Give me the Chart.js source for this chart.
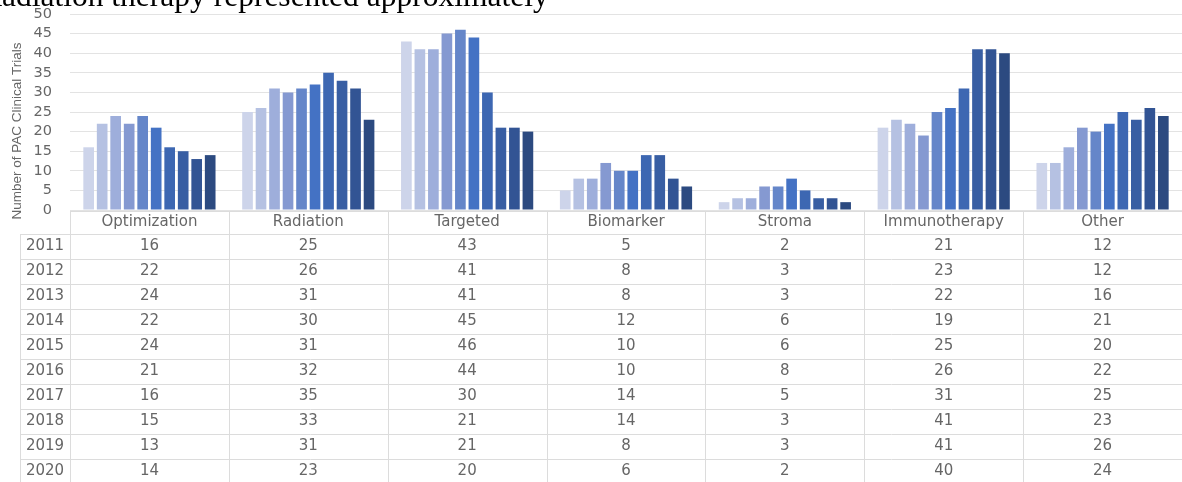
<!DOCTYPE html>
<html>
<head>
<meta charset="utf-8">
<script src="https://cdn.jsdelivr.net/npm/chart.js@4/dist/chart.umd.min.js"></script>
<style>
  html, body { margin: 0; padding: 0; background: #fff; }
  #wrap { width: 1182px; height: 482px; position: relative; overflow: hidden; }
</style>
</head>
<body>
<div id="wrap"><canvas id="trialsChart" width="1182" height="482"></canvas></div>
<script>
const categories = ['Optimization', 'Radiation', 'Targeted', 'Biomarker', 'Stroma', 'Immunotherapy', 'Other'];
const years = ['2011', '2012', '2013', '2014', '2015', '2016', '2017', '2018', '2019', '2020'];
const yTicks = [0, 5, 10, 15, 20, 25, 30, 35, 40, 45, 50];

// one array per year, values in category order
const v2011 = [16, 25, 43, 5, 2, 21, 12];
const v2012 = [22, 26, 41, 8, 3, 23, 12];
const v2013 = [24, 31, 41, 8, 3, 22, 16];
const v2014 = [22, 30, 45, 12, 6, 19, 21];
const v2015 = [24, 31, 46, 10, 6, 25, 20];
const v2016 = [21, 32, 44, 10, 8, 26, 22];
const v2017 = [16, 35, 30, 14, 5, 31, 25];
const v2018 = [15, 33, 21, 14, 3, 41, 23];
const v2019 = [13, 31, 21, 8, 3, 41, 26];
const v2020 = [14, 23, 20, 6, 2, 40, 24];
const yearValues = [v2011, v2012, v2013, v2014, v2015, v2016, v2017, v2018, v2019, v2020];

const barColors = ['#cdd4ea', '#b5c1e2', '#9eaedb', '#8599d1', '#6586c9', '#4472c4', '#3d67b2', '#385ea3', '#325494', '#2c4a80'];

const textColor = '#666666';
const lineColor = '#dcdcdc';
const font = 'DejaVu Sans';

const tablePlugin = {
    id: 'dataTable',
    afterDraw(chart) {
        const ctx = chart.ctx;
        const area = chart.chartArea;
        const colW = (area.right - area.left) / categories.length;
        const headTop = area.bottom + 1;
        const rowTop = headTop + 23;
        const rowH = 25;
        const yearLeft = 20;
        const bottom = chart.height;

        ctx.save();
        ctx.strokeStyle = lineColor;
        ctx.lineWidth = 1;
        ctx.beginPath();
        // header top line
        ctx.moveTo(area.left, headTop + 0.5);
        ctx.lineTo(area.right, headTop + 0.5);
        // row lines
        for (let r = 0; r < years.length; r++) {
            const y = rowTop + r * rowH + 0.5;
            ctx.moveTo(yearLeft, y);
            ctx.lineTo(area.right, y);
        }
        // column lines
        for (let c = 0; c <= categories.length; c++) {
            const x = Math.round(area.left + c * colW) + 0.5;
            ctx.moveTo(x, headTop);
            ctx.lineTo(x, bottom);
        }
        ctx.moveTo(yearLeft + 0.5, rowTop);
        ctx.lineTo(yearLeft + 0.5, bottom);
        ctx.stroke();

        ctx.fillStyle = textColor;
        ctx.font = '15px "' + font + '"';
        ctx.textAlign = 'center';
        ctx.textBaseline = 'middle';
        categories.forEach((cat, c) => {
            const cx = chart.scales.x.getPixelForValue(c);
            ctx.fillText(cat, cx, headTop + 11.5);
            yearValues.forEach((vals, r) => {
                ctx.fillText(String(vals[c]), cx, rowTop + r * rowH + rowH / 2);
            });
        });
        years.forEach((yr, r) => {
            ctx.fillText(yr, (yearLeft + area.left) / 2, rowTop + r * rowH + rowH / 2);
        });

        // y axis title
        ctx.save();
        ctx.translate(17, 131);
        ctx.rotate(-Math.PI / 2);
        ctx.font = '13.5px "Liberation Sans"';
        ctx.fillText('Number of PAC Clinical Trials', 0, 0);
        ctx.restore();

        // cut-off text line above the chart
        ctx.fillStyle = '#000';
        ctx.textAlign = 'left';
        ctx.textBaseline = 'alphabetic';
        ctx.font = '31.5px "Liberation Serif"';
        ctx.fillText('Radiation therapy represented approximately', -19, 6);
        ctx.restore();
    }
};

new Chart(document.getElementById('trialsChart'), {
    type: 'bar',
    data: {
        labels: categories,
        datasets: years.map((yr, i) => ({
            label: yr,
            data: yearValues[i],
            backgroundColor: barColors[i],
            borderWidth: 0,
            categoryPercentage: 0.85,
            barPercentage: 0.79
        }))
    },
    options: {
        responsive: false,
        animation: false,
        layout: { padding: { left: 0, right: 0, top: 14, bottom: 272 } },
        plugins: {
            legend: { display: false },
            tooltip: { enabled: false }
        },
        scales: {
            x: { display: false },
            y: {
                min: 0,
                max: 50,
                afterBuildTicks(scale) {
                    scale.ticks = yTicks.map(v => ({ value: v }));
                },
                afterFit(scale) {
                    scale.width = 70;
                    scale.paddingTop = 0;
                    scale.paddingBottom = 0;
                },
                border: { display: false },
                grid: { color: '#e3e3e3', drawTicks: false },
                ticks: {
                    stepSize: 5,
                    autoSkip: false,
                    padding: 18,
                    color: textColor,
                    font: { family: font, size: 14.5 }
                }
            }
        }
    },
    plugins: [tablePlugin]
});
</script>
</body>
</html>
